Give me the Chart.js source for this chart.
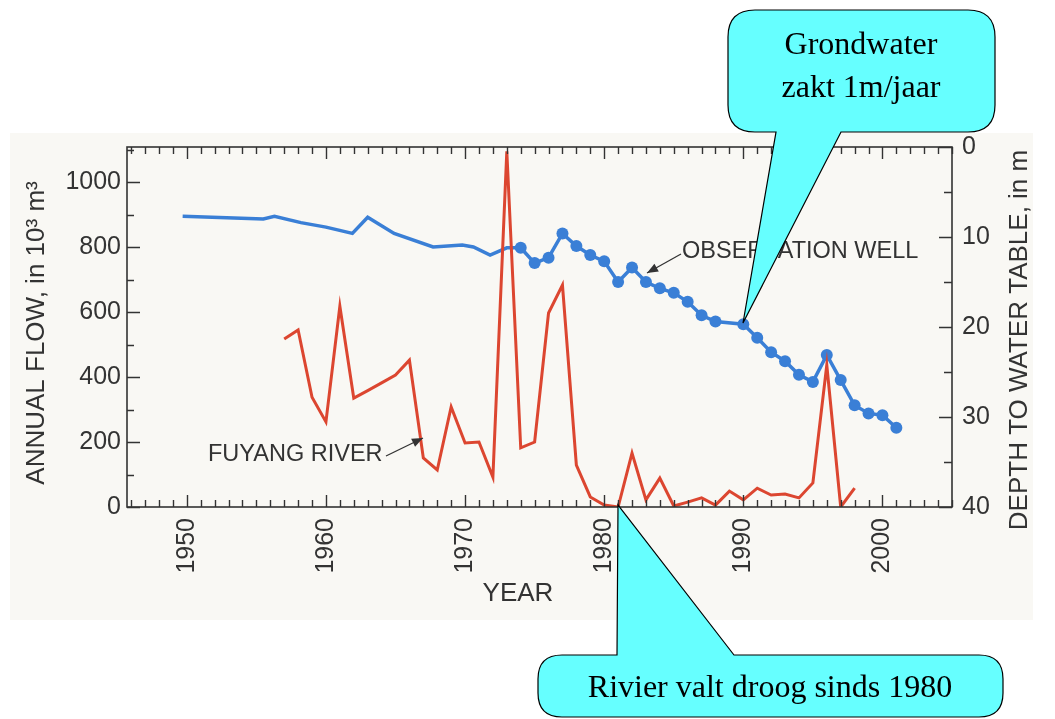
<!DOCTYPE html>
<html>
<head>
<meta charset="utf-8">
<script src="https://cdn.jsdelivr.net/npm/chart.js@4.4.1/dist/chart.umd.min.js"></script>
<style>
html,body{margin:0;padding:0;background:#ffffff;}
#wrap{position:relative;width:1055px;height:719px;overflow:hidden;}
#wrap canvas{position:absolute;left:0;top:0;}
#callouts{position:absolute;left:0;top:0;}
#callouts text{font-family:"Liberation Serif","Times New Roman",serif;font-size:32px;fill:#000;}
</style>
</head>
<body>
<div id="wrap">
<canvas id="c" width="1055" height="719"></canvas>
<svg id="callouts" width="1055" height="719" xmlns="http://www.w3.org/2000/svg">
  <path d="M755,10 L968,10 Q995,10 995,37 L995,105 Q995,132 968,132 L841,132 L743,323 L776,132 L755,132 Q728,132 728,105 L728,37 Q728,10 755,10 Z" fill="#66ffff" stroke="#000" stroke-width="1.2"/>
  <text x="861" y="54" text-anchor="middle">Grondwater</text>
  <text x="861" y="97" text-anchor="middle">zakt 1m/jaar</text>
  <path d="M562,655 L617,655 L618,505 L734,655 L979,655 Q1003,655 1003,679 L1003,693 Q1003,717 979,717 L562,717 Q538,717 538,693 L538,679 Q538,655 562,655 Z" fill="#66ffff" stroke="#000" stroke-width="1.2"/>
  <text x="770" y="697" text-anchor="middle">Rivier valt droog sinds 1980</text>
</svg>
</div>
<script>
// ---- data ----
const riverYears = [1957,1958,1959,1960,1961,1962,1963,1964,1965,1966,1967,1968,1969,1970,1971,1972,1973,1974,1975,1976,1977,1978,1979,1980,1981,1982,1983,1984,1985,1986,1987,1988,1989,1990,1991,1992,1993,1994,1995,1996,1997,1998];
const riverFlow  = [517,545,338,262,618,335,358,382,406,452,151,114,308,197,200,92,1095,182,200,597,683,129,31,6,0,166,22,89,3,15,28,6,49,22,58,37,40,28,74,437,0,58];

const wellTrendYears = [1949.7,1955.5,1956.3,1958.2,1960.0,1961.9,1963.0,1964.9,1967.7,1969.8,1970.6,1971.8,1973.0,1974.0];
const wellTrendDepth = [7.7,8.0,7.7,8.4,8.9,9.6,7.8,9.6,11.1,10.9,11.1,12.0,11.2,11.2];

const wellYears = [1974,1975,1976,1977,1978,1979,1980,1981,1982,1983,1984,1985,1986,1987,1988,1990,1991,1992,1993,1994,1995,1996,1997,1998,1999,2000,2001];
const wellDepth = [11.2,12.9,12.3,9.6,11.0,12.0,12.7,15.0,13.4,15.0,15.7,16.2,17.2,18.7,19.4,19.7,21.2,22.8,23.8,25.3,26.1,23.1,25.9,28.7,29.6,29.8,31.2];

const yearTicks  = [1950,1960,1970,1980,1990,2000];
const flowTicks  = [0,200,400,600,800,1000];
const depthTicks = [0,10,20,30,40];

const leftTitle  = "ANNUAL FLOW, in 10\u00B3 m\u00B3";
const rightTitle = "DEPTH TO WATER TABLE, in m";
const xTitle     = "YEAR";
const wellLabel  = "OBSERVATION WELL";
const riverLabel = "FUYANG RIVER";

// ---- styling ----
const RED = '#dc4630';
const BLUE = '#3a7fd6';
const INK = '#333333';
const FONT = "'Liberation Sans', Arial, Helvetica, sans-serif";

function arrow(ctx, x1, y1, x2, y2){
  ctx.save();
  ctx.strokeStyle = '#333'; ctx.fillStyle = '#333'; ctx.lineWidth = 1.3;
  ctx.beginPath(); ctx.moveTo(x1,y1); ctx.lineTo(x2,y2); ctx.stroke();
  const a = Math.atan2(y2-y1, x2-x1), L = 11, W = 4.5;
  ctx.beginPath();
  ctx.moveTo(x2,y2);
  ctx.lineTo(x2 - L*Math.cos(a) + W*Math.sin(a), y2 - L*Math.sin(a) - W*Math.cos(a));
  ctx.lineTo(x2 - L*Math.cos(a) - W*Math.sin(a), y2 - L*Math.sin(a) + W*Math.cos(a));
  ctx.closePath(); ctx.fill();
  ctx.restore();
}

const decor = {
  id: 'decor',
  beforeDraw(chart){
    const ctx = chart.ctx;
    ctx.save();
    ctx.fillStyle = '#ffffff';
    ctx.fillRect(0,0,chart.width,chart.height);
    ctx.fillStyle = '#f9f8f4';
    ctx.fillRect(10,133,1023,487);
    ctx.restore();
  },
  afterDatasetsDraw(chart){
    const ctx = chart.ctx, a = chart.chartArea;
    const xs = chart.scales.x, yl = chart.scales.yFlow, yr = chart.scales.yDepth;
    ctx.save();
    ctx.strokeStyle = INK; ctx.lineWidth = 1.6;
    ctx.strokeRect(a.left, a.top, a.right-a.left, a.bottom-a.top);
    ctx.lineWidth = 1.4;
    ctx.beginPath();
    for(let yr0 = Math.ceil(xs.min); yr0 <= xs.max; yr0++){
      const px = Math.round(xs.getPixelForValue(yr0)) + 0.5;
      const len = (yr0 % 10 === 0) ? 12 : 7;
      ctx.moveTo(px, a.bottom); ctx.lineTo(px, a.bottom - len);
      ctx.moveTo(px, a.top); ctx.lineTo(px, a.top + len);
    }
    for(let v = 0; v <= yl.max; v += 100){
      const py = Math.round(yl.getPixelForValue(v)) + 0.5;
      const len = (v % 200 === 0) ? 13 : 7;
      ctx.moveTo(a.left, py); ctx.lineTo(a.left + len, py);
    }
    for(let v = 0; v <= yr.max; v += 5){
      const py = Math.round(yr.getPixelForValue(v)) + 0.5;
      const len = (v % 10 === 0) ? 13 : 8;
      ctx.moveTo(a.right, py); ctx.lineTo(a.right - len, py);
    }
    ctx.stroke();

    // text labels
    ctx.fillStyle = INK;
    ctx.font = "26px " + FONT;
    ctx.textAlign = 'center'; ctx.textBaseline = 'middle';
    ctx.save(); ctx.translate(37, 333); ctx.rotate(-Math.PI/2); ctx.fillText(leftTitle, 0, 0); ctx.restore();
    ctx.save(); ctx.translate(1020, 340); ctx.rotate(-Math.PI/2); ctx.fillText(rightTitle, 0, 0); ctx.restore();
    ctx.fillText(xTitle, 518, 594);

    ctx.font = "23.5px " + FONT;
    ctx.textAlign = 'left';
    ctx.fillText(wellLabel, 682, 252);
    ctx.fillText(riverLabel, 208, 455);
    ctx.restore();
    arrow(ctx, 681, 254, 647, 273);
    arrow(ctx, 386, 456, 423, 438);
  }
};

const riverData = riverYears.map((y,i)=>({x:y, y:riverFlow[i]}));
const trendData = wellTrendYears.map((y,i)=>({x:y, y:wellTrendDepth[i]}));
const wellData  = wellYears.map((y,i)=>({x:y, y:wellDepth[i]}));

new Chart(document.getElementById('c'), {
  type: 'line',
  data: {
    datasets: [
      { label: riverLabel, data: riverData, yAxisID: 'yFlow', borderColor: RED, borderWidth: 3, pointRadius: 0, tension: 0 },
      { label: wellLabel + ' trend', data: trendData, yAxisID: 'yDepth', borderColor: BLUE, borderWidth: 3.5, pointRadius: 0, tension: 0 },
      { label: wellLabel, data: wellData, yAxisID: 'yDepth', borderColor: BLUE, borderWidth: 3.5, pointRadius: 6, pointBackgroundColor: BLUE, pointBorderColor: BLUE, pointBorderWidth: 0, tension: 0 }
    ]
  },
  options: {
    responsive: false,
    animation: false,
    devicePixelRatio: 1,
    layout: { padding: { top: 147, left: 0, right: 0, bottom: 0 } },
    plugins: { legend: { display: false }, tooltip: { enabled: false } },
    scales: {
      x: {
        type: 'linear', min: 1945.7, max: 2005,
        grid: { display: false, drawTicks: false },
        border: { display: false },
        afterBuildTicks: s => { s.ticks = yearTicks.map(v => ({value: v})); },
        afterFit: s => { s.height = 212; },
        ticks: { autoSkip: false, minRotation: 90, maxRotation: 90, padding: 11, color: INK, font: { family: FONT, size: 25 }, callback: v => String(v) }
      },
      yFlow: {
        type: 'linear', position: 'left', min: 0, max: 1108,
        grid: { display: false, drawTicks: false },
        border: { display: false },
        afterBuildTicks: s => { s.ticks = flowTicks.map(v => ({value: v})); },
        afterFit: s => { s.width = 127; },
        ticks: { padding: 6, color: INK, font: { family: FONT, size: 25 }, callback: v => String(v) }
      },
      yDepth: {
        type: 'linear', position: 'right', min: 0, max: 40, reverse: true,
        grid: { display: false, drawTicks: false },
        border: { display: false },
        afterBuildTicks: s => { s.ticks = depthTicks.map(v => ({value: v})); },
        afterFit: s => { s.width = 103; },
        ticks: { padding: 10, color: INK, font: { family: FONT, size: 25 }, callback: v => String(v) }
      }
    }
  },
  plugins: [decor]
});
</script>
</body>
</html>
